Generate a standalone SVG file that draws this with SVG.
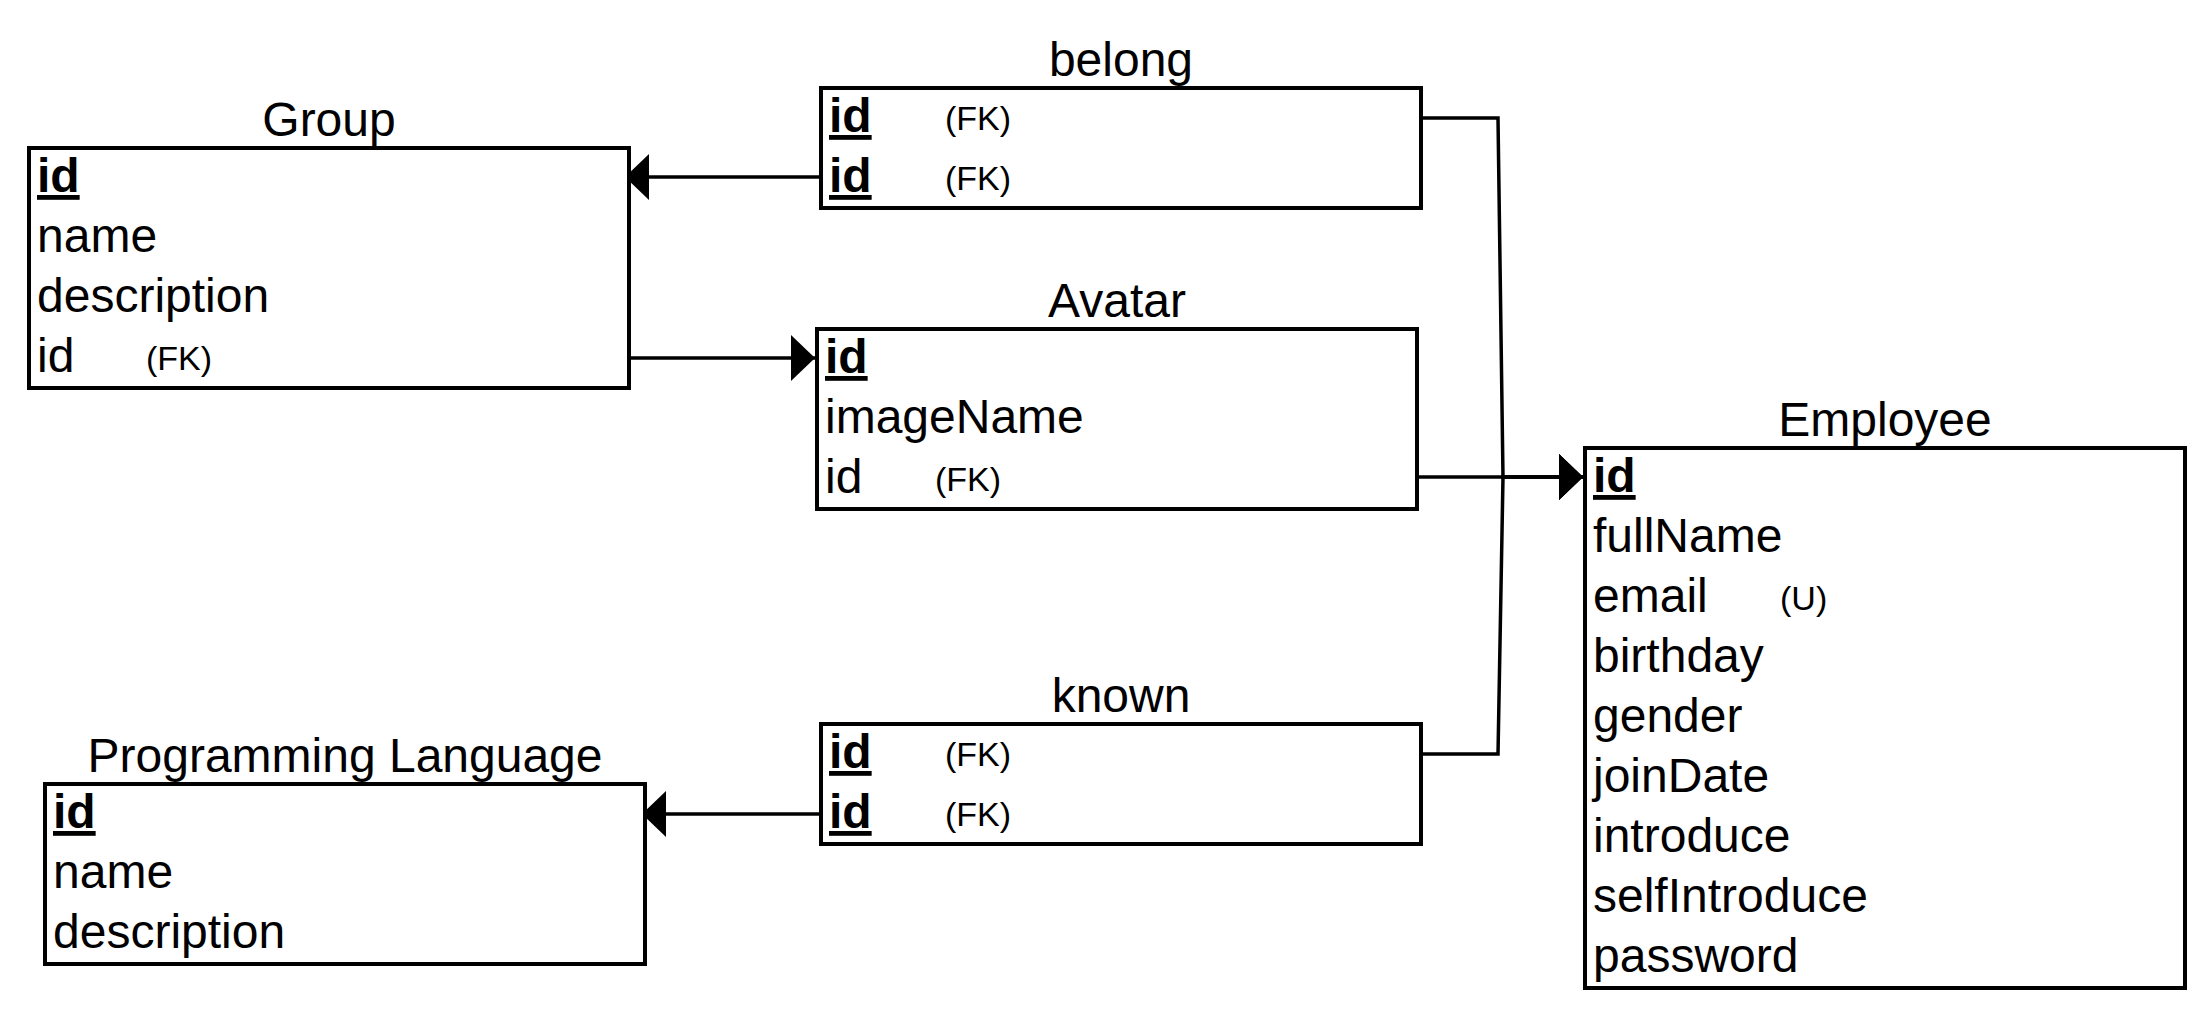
<svg xmlns="http://www.w3.org/2000/svg" width="2212" height="1016" viewBox="0 0 2212 1016">
<style>
text{font-family:"Liberation Sans",Arial,sans-serif;fill:#000}
.t{font-size:48px;text-anchor:middle}
.r{font-size:48px}
.pk{font-size:48px;font-weight:bold;text-decoration:underline}
.s{font-size:34px}
.box{fill:#fff;stroke:#000;stroke-width:4}
.e{fill:none;stroke:#000;stroke-width:3.5}
</style>
<defs>
<marker id="arr" markerUnits="userSpaceOnUse" markerWidth="26" markerHeight="50" viewBox="0 -25 26 50" refX="24" refY="0" orient="auto">
<path d="M0,-23 L24,0 L0,23 z" fill="#000"/>
</marker>
</defs>
<rect width="2212" height="1016" fill="#fff"/>
<g id="edges">
<path class="e" d="M821,177 L625,177" marker-end="url(#arr)"/>
<path class="e" d="M629,358 L815,358" marker-end="url(#arr)"/>
<path class="e" d="M821,814 L642,814" marker-end="url(#arr)"/>
<path class="e" d="M1417,477 L1583,477" marker-end="url(#arr)"/>
<path class="e" d="M1421,118 L1498,118 L1503,477 L1583,477" marker-end="url(#arr)"/>
<path class="e" d="M1421,754 L1498,754 L1503,477 L1583,477" marker-end="url(#arr)"/>
</g>
<g id="group">
<text class="t" x="329" y="136">Group</text>
<rect class="box" x="29" y="148" width="600" height="240"/>
<text class="pk" x="37" y="192">id</text>
<text class="r" x="37" y="252">name</text>
<text class="r" x="37" y="312">description</text>
<text class="r" x="37" y="372">id</text>
<text class="s" x="146" y="370">(FK)</text>
</g>
<g id="belong">
<text class="t" x="1121" y="76">belong</text>
<rect class="box" x="821" y="88" width="600" height="120"/>
<text class="pk" x="829" y="132">id</text>
<text class="s" x="945" y="130">(FK)</text>
<text class="pk" x="829" y="192">id</text>
<text class="s" x="945" y="190">(FK)</text>
</g>
<g id="avatar">
<text class="t" x="1117" y="317">Avatar</text>
<rect class="box" x="817" y="329" width="600" height="180"/>
<text class="pk" x="825" y="373">id</text>
<text class="r" x="825" y="433">imageName</text>
<text class="r" x="825" y="493">id</text>
<text class="s" x="935" y="491">(FK)</text>
</g>
<g id="known">
<text class="t" x="1121" y="712">known</text>
<rect class="box" x="821" y="724" width="600" height="120"/>
<text class="pk" x="829" y="768">id</text>
<text class="s" x="945" y="766">(FK)</text>
<text class="pk" x="829" y="828">id</text>
<text class="s" x="945" y="826">(FK)</text>
</g>
<g id="programming-language">
<text class="t" x="345" y="772">Programming Language</text>
<rect class="box" x="45" y="784" width="600" height="180"/>
<text class="pk" x="53" y="828">id</text>
<text class="r" x="53" y="888">name</text>
<text class="r" x="53" y="948">description</text>
</g>
<g id="employee">
<text class="t" x="1885" y="436">Employee</text>
<rect class="box" x="1585" y="448" width="600" height="540"/>
<text class="pk" x="1593" y="492">id</text>
<text class="r" x="1593" y="552">fullName</text>
<text class="r" x="1593" y="612">email</text>
<text class="s" x="1780" y="610">(U)</text>
<text class="r" x="1593" y="672">birthday</text>
<text class="r" x="1593" y="732">gender</text>
<text class="r" x="1593" y="792">joinDate</text>
<text class="r" x="1593" y="852">introduce</text>
<text class="r" x="1593" y="912">selfIntroduce</text>
<text class="r" x="1593" y="972">password</text>
</g>
</svg>
